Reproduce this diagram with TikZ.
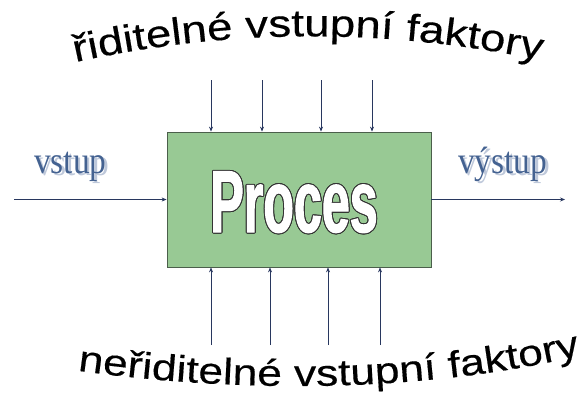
\documentclass[tikz,border=0pt]{standalone}
\usepackage{fontspec}
\usepackage[copies]{contour}
\usetikzlibrary{arrows.meta,decorations.text}
\setmainfont{Liberation Serif}
\newfontfamily\wordart[FakeStretch=1.2,FakeBold=0.4]{Liberation Sans}
\newfontfamily\procfont[FakeStretch=0.57,FakeBold=1.2]{Liberation Sans}
\newfontfamily\iofont[FakeStretch=0.88]{Liberation Serif}
\definecolor{boxgreen}{RGB}{152,201,148}
\definecolor{boxline}{RGB}{75,95,75}
\definecolor{arrowblue}{RGB}{40,55,95}
\definecolor{ioblue}{RGB}{68,98,145}
\definecolor{ioshadow}{RGB}{190,200,218}
\contourlength{1pt}
\tikzset{
  arr/.style={-{Stealth[length=5pt,width=4pt]}, draw=arrowblue, line width=0.7pt},
  iolabel/.style={text=ioblue, font=\iofont\fontsize{38}{38}\selectfont, inner sep=0pt, anchor=base west},
  ioshade/.style={iolabel, text=ioshadow},
  procbox/.style={draw=boxline, line width=0.8pt, fill=boxgreen, minimum width=264pt, minimum height=135pt, inner sep=0pt},
}
\begin{document}
\begin{tikzpicture}[x=1pt,y=-1pt]
		\useasboundingbox (0,0) rectangle (583,394);
		\node[procbox] (proc) at (299,199.5) {};
		\node[anchor=base, inner sep=0pt, text=white] (proctext) at (294,232) {\procfont\bfseries\fontsize{88}{88}\selectfont\contour{black!80}{Proces}};
		% inputs and outputs
		\node[ioshade] (vstupsh) at (36.5,175.5) {vstup};
		\node[iolabel] (vstup) at (34,173) {vstup};
		\node[ioshade] (vystupsh) at (460.5,175.5) {výstup};
		\node[iolabel] (vystup) at (458,173) {výstup};
		\coordinate (in) at (14,199.5);
		\coordinate (out) at (565,199.5);
		\path (in) edge[arr] (proc.west);
		\path (proc.east) edge[arr] (out);
		% controllable factors
		\coordinate (t1) at (211,80);
		\coordinate (t2) at (262,80);
		\coordinate (t3) at (321,80);
		\coordinate (t4) at (372,80);
		\path (t1) edge[arr] (t1 |- proc.north);
		\path (t2) edge[arr] (t2 |- proc.north);
		\path (t3) edge[arr] (t3 |- proc.north);
		\path (t4) edge[arr] (t4 |- proc.north);
		% uncontrollable factors
		\coordinate (b1) at (211,345);
		\coordinate (b2) at (270,345);
		\coordinate (b3) at (328,345);
		\coordinate (b4) at (380,345);
		\path (b1) edge[arr] (b1 |- proc.south);
		\path (b2) edge[arr] (b2 |- proc.south);
		\path (b3) edge[arr] (b3 |- proc.south);
		\path (b4) edge[arr] (b4 |- proc.south);
		% arched texts
		\path[decorate, decoration={text along path, text align=center,
			text={|\wordart\fontsize{38}{38}\selectfont|řiditelné vstupní faktory}}]
			(76,62) .. controls (230,28) and (385,28) .. (540,60);
		\path[decorate, decoration={text along path, text align=center,
			text={|\wordart\fontsize{37}{37}\selectfont|neřiditelné vstupní faktory}}]
			(80,371) .. controls (240,393) and (420,393) .. (578,356);
	\end{tikzpicture}
\end{document}
